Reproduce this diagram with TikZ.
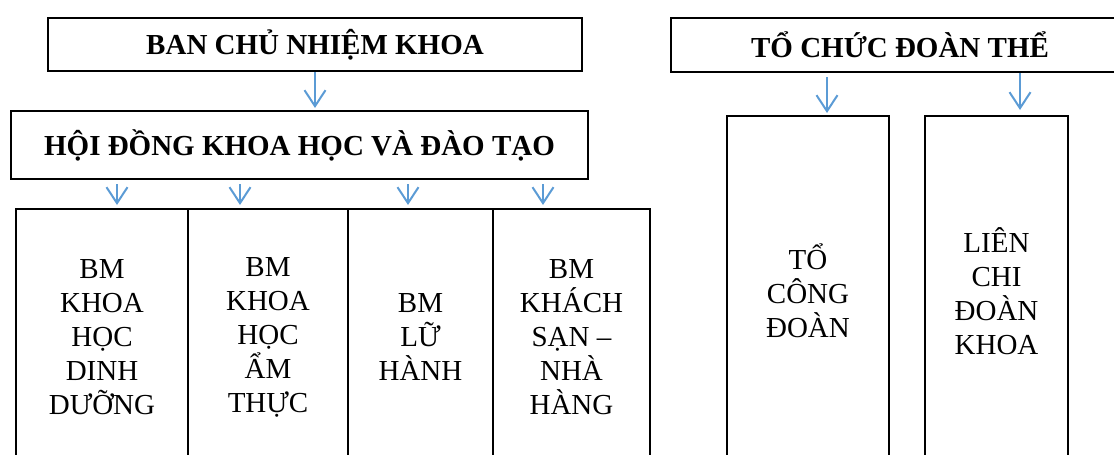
\documentclass[tikz,border=0pt]{standalone}
\usepackage{fontspec}
\setmainfont{Liberation Serif}
\usetikzlibrary{arrows.meta}
\usetikzlibrary{positioning}
\definecolor{arrow_blue}{RGB}{91,155,213}
\tikzstyle{head_box} = [
    rectangle,
    draw=black,
    line width=2pt,
    font=\fontsize{29}{34}\selectfont\bfseries,
    align=center,
    inner sep=0pt,
    anchor=north west
]
\tikzstyle{unit_box} = [
    rectangle,
    draw=black,
    line width=2pt,
    font=\fontsize{29}{34}\selectfont,
    align=center,
    inner sep=0pt,
    anchor=north west
]
\tikzstyle{down_arrow} = [
    draw=arrow_blue,
    line width=2pt,
    -{Straight Barb[length=16pt, width=21pt]}
]

\begin{document}
\begin{tikzpicture}[x=1pt, y=-1pt]
\clip (0,0) rectangle (1114,455);
% khoa
\node [head_box, minimum width=534pt, minimum height=53pt] (ban) at (47,17) {BAN CHỦ NHIỆM KHOA};
\node [head_box, minimum width=577pt, minimum height=68pt] (hoidong) at (10,110) {HỘI ĐỒNG KHOA HỌC VÀ ĐÀO TẠO};
\node [unit_box, minimum width=172pt, minimum height=257pt] (bm_dd) at (15,208) {BM\\KHOA\\HỌC\\DINH\\DƯỠNG};
\node [unit_box, minimum width=160pt, minimum height=257pt] (bm_at) at (187,208) {BM\\KHOA\\HỌC\\ẨM\\THỰC};
\node [unit_box, minimum width=145pt, minimum height=257pt] (bm_lh) at (347,208) {BM\\LỮ\\HÀNH};
\node [unit_box, minimum width=157pt, minimum height=257pt] (bm_ks) at (492,208) {BM\\KHÁCH\\SẠN –\\NHÀ\\HÀNG};
% doan the
\node [head_box, minimum width=458pt, minimum height=54pt] (doanthe) at (670,17) {TỔ CHỨC ĐOÀN THỂ};
\node [unit_box, minimum width=162pt, minimum height=350pt] (congdoan) at (726,115) {TỔ\\CÔNG\\ĐOÀN};
\node [unit_box, minimum width=143pt, minimum height=350pt] (lienchi) at (924,115) {LIÊN\\CHI\\ĐOÀN\\KHOA};

\draw [down_arrow, shorten >=2pt] (ban.south) -- (ban.south |- hoidong.north);
\foreach \x/\unit in {117/bm_dd, 240/bm_at, 408/bm_lh, 543/bm_ks} {
    \coordinate (x_\unit) at (\x,0);
    \draw [down_arrow, shorten <=4pt, shorten >=3pt] (hoidong.south -| x_\unit) -- (\unit.north -| x_\unit);
}
\coordinate (x_congdoan) at (827,0);
\coordinate (x_lienchi) at (1020,0);
\draw [down_arrow, shorten <=4pt, shorten >=2pt] (doanthe.south -| x_congdoan) -- (congdoan.north -| x_congdoan);
\draw [down_arrow, shorten >=5pt] (doanthe.south -| x_lienchi) -- (lienchi.north -| x_lienchi);
\end{tikzpicture}
\end{document}
